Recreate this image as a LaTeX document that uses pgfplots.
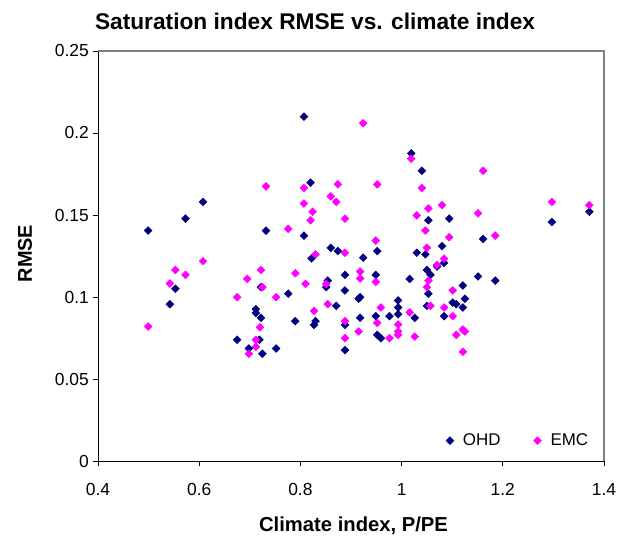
\documentclass[border=0pt]{standalone}
\usepackage{fontspec}
\setmainfont{Liberation Sans}
\usepackage{pgfplots}
\pgfplotsset{compat=1.18}
\definecolor{ohd}{RGB}{0,0,128}
\definecolor{emc}{RGB}{255,0,255}
\definecolor{frame}{RGB}{128,128,128}
\begin{document}
\begin{tikzpicture}
\useasboundingbox (-98bp,-76bp) rectangle (519bp,461bp);
\begin{axis}[
  at={(0,0)}, anchor=south west,
  width=506bp, height=410bp, scale only axis,
  xmin=0.4, xmax=1.4, ymin=0, ymax=0.25,
  axis x line*=bottom, axis y line*=left,
  axis line style={black, line width=0.8bp, -},
  xtick={0.4,0.6,0.8,1,1.2,1.4},
  xticklabels={0.4,0.6,0.8,1,1.2,1.4},
  ytick={0,0.05,0.1,0.15,0.2,0.25},
  yticklabels={0,0.05,0.1,0.15,0.2,0.25},
  tick align=outside, major tick length=5bp,
  tick style={black, line width=0.8bp},
  ticklabel style={font=\fontsize{17.5}{20}\selectfont},
  xticklabel style={anchor=north, inner sep=0pt, yshift=-17bp},
  yticklabel style={anchor=east, inner sep=0pt, xshift=-4bp},
  title={Saturation index RMSE vs. climate index},
  title style={font=\bfseries\fontsize{22.8}{26}\selectfont, at={(axis description cs:0.429,1)}, anchor=base, yshift=15.7bp, inner sep=0pt},
  xlabel={Climate index, P/PE},
  xlabel style={font=\bfseries\fontsize{20.3}{24}\selectfont, at={(axis description cs:0.505,0)}, anchor=base, yshift=-70.7bp, inner sep=0pt},
  ylabel={RMSE},
  ylabel style={font=\bfseries\fontsize{20}{24}\selectfont, at={([xshift=-73bp]axis description cs:0,0.506)}, anchor=center, inner sep=0pt},
  legend columns=2,
  legend style={draw=none, fill=none, at={(axis description cs:0.973,0.028)}, anchor=south east, inner sep=0pt, font=\fontsize{17}{20}\selectfont, /tikz/every even column/.append style={column sep=31bp}, /tikz/every odd column/.append style={column sep=7bp}},
  clip=false,
]
\draw[frame, line width=1.5bp] (rel axis cs:0,1) -- (rel axis cs:1,1) -- (rel axis cs:1,0);
\addplot[only marks, mark=square*, mark size=2.8bp, mark options={rotate=45, ohd, draw=ohd, fill=ohd}] coordinates {
(0.499,0.1405) (0.542,0.0956) (0.553,0.105) (0.573,0.1478) (0.6075,0.158)
(0.675,0.0739) (0.698,0.0686) (0.712,0.0926) (0.712,0.0903) (0.719,0.0739)
(0.722,0.106) (0.722,0.0873) (0.725,0.0654) (0.732,0.1405) (0.752,0.0686)
(0.776,0.102) (0.790,0.0853) (0.807,0.210) (0.807,0.1374) (0.820,0.1697)
(0.822,0.1236) (0.827,0.083) (0.830,0.0853) (0.851,0.106) (0.854,0.110)
(0.860,0.130) (0.871,0.0946) (0.874,0.128) (0.888,0.1135) (0.888,0.104)
(0.888,0.083) (0.888,0.0676) (0.915,0.0989) (0.918,0.0999) (0.918,0.0873)
(0.924,0.124) (0.949,0.1135) (0.949,0.0883) (0.952,0.128) (0.952,0.0769)
(0.959,0.0749) (0.976,0.0883) (0.993,0.0979) (0.993,0.0936) (0.993,0.0895)
(1.016,0.111) (1.019,0.1876) (1.026,0.0873) (1.030,0.127) (1.040,0.177)
(1.047,0.126) (1.050,0.1165) (1.050,0.0946) (1.053,0.1468) (1.053,0.102)
(1.057,0.1135) (1.070,0.1186) (1.080,0.131) (1.084,0.1208) (1.084,0.0883)
(1.094,0.1478) (1.101,0.0966) (1.108,0.0956) (1.121,0.107) (1.121,0.0936)
(1.125,0.0989) (1.151,0.1125) (1.161,0.1354) (1.185,0.110) (1.297,0.1457)
(1.371,0.152)
};
\addlegendentry{OHD}
\addplot[only marks, mark=square*, mark size=2.8bp, mark options={rotate=45, emc, draw=emc, fill=emc}] coordinates {
(0.499,0.082) (0.542,0.1082) (0.553,0.1165) (0.573,0.1135) (0.6075,0.1218)
(0.675,0.0999) (0.695,0.111) (0.698,0.0654) (0.712,0.0739) (0.712,0.0696)
(0.720,0.0815) (0.722,0.1165) (0.725,0.106) (0.732,0.1675) (0.752,0.0999)
(0.776,0.1415) (0.790,0.1145) (0.807,0.1665) (0.807,0.157) (0.810,0.108)
(0.820,0.1468) (0.824,0.152) (0.827,0.0915) (0.830,0.126) (0.851,0.108)
(0.854,0.0956) (0.860,0.1614) (0.871,0.158) (0.874,0.1687) (0.888,0.1478)
(0.888,0.127) (0.888,0.0853) (0.888,0.0749) (0.915,0.079) (0.918,0.1155)
(0.918,0.1113) (0.924,0.206) (0.949,0.1344) (0.949,0.1092) (0.952,0.1687)
(0.952,0.0842) (0.959,0.0936) (0.976,0.0749) (0.993,0.0832) (0.993,0.079)
(0.993,0.0769) (1.016,0.0906) (1.019,0.1843) (1.026,0.0759) (1.030,0.1498)
(1.040,0.1665) (1.047,0.1405) (1.050,0.130) (1.050,0.106) (1.053,0.154)
(1.053,0.110) (1.057,0.0946) (1.070,0.1196) (1.080,0.156) (1.084,0.1234)
(1.084,0.0936) (1.094,0.1364) (1.101,0.104) (1.101,0.0883) (1.108,0.0769)
(1.121,0.0802) (1.121,0.0666) (1.125,0.079) (1.151,0.151) (1.161,0.177)
(1.185,0.1374) (1.297,0.158) (1.371,0.156)
};
\addlegendentry{EMC}
\end{axis}
\end{tikzpicture}
\end{document}
